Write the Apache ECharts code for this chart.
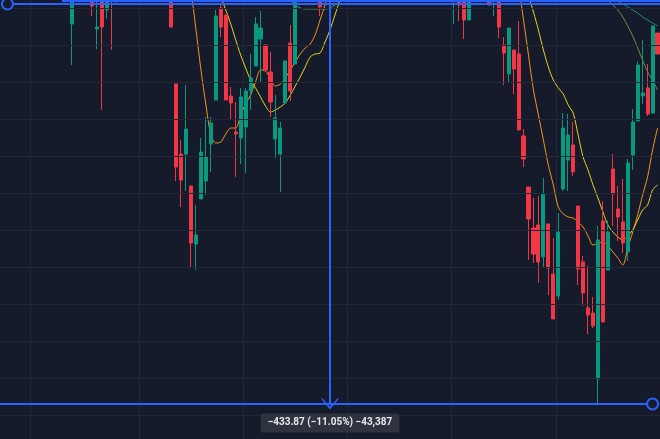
<!DOCTYPE html>
<html>
<head>
<meta charset="utf-8">
<style>
html, body { margin: 0; padding: 0; background: #161b2b; }
#chart-panel { position: absolute; left: 0; right: 0; top: 0; bottom: 0; }
</style>
<script src="https://cdn.jsdelivr.net/npm/echarts@6/dist/echarts.min.js"></script>
</head>
<body>
<div id="chart-panel"></div>
<script type="text/javascript">
// candle count across the visible window
var candleCount = 133;

// visible candles: [index, open, close, low, high]; the rest are above the view
var candles = [
    [14, 3902.7, 3939.4, 3858.3, 3950.2],
    [18, 3939.4, 3922.1, 3911.3, 3950.2],
    [19, 3897.3, 3899.4, 3875.6, 3934.0],
    [20, 3939.4, 3899.4, 3809.7, 3950.2],
    [21, 3917.8, 3939.4, 3908.1, 3950.2],
    [22, 3944.8, 3934.0, 3874.6, 3950.2],
    [23, 3934.0, 3939.4, 3925.4, 3950.2],
    [34, 3944.8, 3899.4, 3899.4, 3950.2],
    [35, 3837.8, 3748.1, 3732.9, 3837.8],
    [36, 3762.1, 3734.0, 3704.8, 3777.3],
    [37, 3762.1, 3789.1, 3722.1, 3836.7],
    [38, 3727.5, 3665.9, 3640.0, 3727.5],
    [39, 3664.8, 3674.6, 3636.7, 3707.0],
    [40, 3713.5, 3764.3, 3713.5, 3779.4],
    [41, 3732.9, 3758.9, 3717.8, 3802.1],
    [42, 3772.9, 3795.6, 3742.7, 3802.1],
    [43, 3820.5, 3911.3, 3820.5, 3917.8],
    [44, 3920.0, 3899.4, 3888.6, 3923.2],
    [45, 3912.4, 3820.5, 3820.5, 3912.4],
    [46, 3824.8, 3817.3, 3798.9, 3834.6],
    [47, 3785.9, 3783.8, 3737.3, 3818.3],
    [48, 3779.4, 3823.8, 3751.3, 3833.5],
    [49, 3791.3, 3830.2, 3741.6, 3833.5],
    [50, 3830.2, 3844.3, 3809.7, 3870.2],
    [51, 3857.2, 3902.7, 3857.2, 3910.2],
    [52, 3886.4, 3898.3, 3838.9, 3916.7],
    [53, 3880.0, 3852.9, 3852.9, 3880.0],
    [54, 3850.8, 3818.3, 3802.1, 3872.4],
    [55, 3778.3, 3801.0, 3757.8, 3825.9],
    [56, 3762.1, 3790.2, 3721.0, 3796.7],
    [57, 3817.3, 3862.7, 3817.3, 3862.7],
    [58, 3882.1, 3830.2, 3819.4, 3901.6],
    [59, 3859.4, 3939.4, 3859.4, 3950.2],
    [64, 3939.4, 3921.0, 3911.3, 3950.2],
    [91, 3934.0, 3939.4, 3902.7, 3950.2],
    [92, 3939.4, 3923.2, 3905.9, 3950.2],
    [93, 3939.4, 3907.0, 3886.4, 3950.2],
    [94, 3907.0, 3939.4, 3907.0, 3950.2],
    [98, 3934.0, 3923.2, 3923.2, 3939.4],
    [99, 3934.0, 3939.4, 3911.3, 3950.2],
    [100, 3939.4, 3899.4, 3887.5, 3950.2],
    [101, 3880.0, 3871.3, 3836.7, 3888.6],
    [102, 3848.6, 3898.3, 3838.9, 3898.3],
    [103, 3874.6, 3854.0, 3827.0, 3874.6],
    [104, 3870.2, 3788.1, 3788.1, 3905.9],
    [105, 3781.6, 3756.7, 3748.1, 3789.1],
    [106, 3726.4, 3691.9, 3647.5, 3726.4],
    [107, 3682.1, 3654.0, 3644.3, 3714.6],
    [108, 3685.4, 3645.4, 3622.7, 3716.7],
    [109, 3650.8, 3718.9, 3640.0, 3736.2],
    [110, 3686.5, 3638.9, 3609.7, 3686.5],
    [111, 3632.4, 3583.8, 3583.8, 3671.3],
    [112, 3608.6, 3677.8, 3604.3, 3698.3],
    [113, 3724.3, 3790.2, 3722.1, 3806.4],
    [114, 3755.6, 3782.7, 3722.1, 3805.4],
    [115, 3771.9, 3742.7, 3738.3, 3796.7],
    [116, 3705.9, 3637.8, 3620.5, 3705.9],
    [117, 3645.4, 3611.9, 3597.8, 3651.9],
    [118, 3595.7, 3588.1, 3567.5, 3641.1],
    [119, 3590.2, 3576.2, 3574.0, 3607.5],
    [120, 3518.9, 3669.2, 3491.9, 3684.3],
    [121, 3689.7, 3580.5, 3580.5, 3711.3],
    [122, 3636.7, 3677.8, 3636.7, 3689.7],
    [123, 3745.9, 3718.9, 3684.3, 3762.1],
    [124, 3702.7, 3694.0, 3668.1, 3727.5],
    [125, 3688.6, 3665.9, 3655.1, 3735.1],
    [126, 3656.2, 3752.4, 3646.5, 3756.7],
    [127, 3761.0, 3796.7, 3744.8, 3810.8],
    [128, 3797.8, 3858.3, 3797.8, 3862.0],
    [129, 3824.8, 3828.1, 3816.2, 3885.4],
    [130, 3833.5, 3805.4, 3803.2, 3859.4],
    [131, 3806.4, 3900.5, 3806.4, 3900.5],
    [132, 3892.9, 3870.2, 3870.2, 3892.9]
];

// moving averages, visible stretches (start index + values)
var maFastLeft = { start: 37, values: [3961.0, 3937.2, 3896.2, 3852.9, 3815.1, 3782.7, 3774.0, 3775.1, 3783.8, 3790.2, 3790.2, 3804.3, 3816.2, 3825.9, 3840.0, 3852.9, 3851.9, 3843.2, 3835.6, 3837.8, 3844.3, 3852.9, 3861.6, 3870.2, 3876.7, 3881.0, 3890.8, 3907.0, 3923.2, 3939.4] };
var maFastRight = { start: 103, values: [3971.8, 3944.8, 3907.0, 3869.1, 3831.3, 3804.3, 3777.3, 3750.2, 3728.6, 3704.8, 3697.3, 3694.0, 3692.9, 3688.6, 3683.2, 3673.5, 3663.7, 3665.9, 3667.0, 3662.7, 3656.2, 3649.7, 3642.1, 3660.5, 3677.8, 3696.2, 3717.8, 3737.3, 3766.4, 3790.2] };
var maMidLeft = { start: 43, values: [3944.8, 3931.8, 3917.8, 3902.7, 3885.4, 3869.1, 3855.1, 3842.1, 3833.5, 3823.8, 3814.0, 3807.5, 3809.7, 3812.9, 3817.3, 3825.9, 3835.6, 3845.4, 3856.2, 3867.0, 3870.2, 3871.3, 3883.2, 3896.2, 3912.4, 3928.6, 3944.8] };
var maMidRight = { start: 105, values: [3955.6, 3934.0, 3915.6, 3896.2, 3874.6, 3856.2, 3842.1, 3833.5, 3827.0, 3815.1, 3806.4, 3782.7, 3758.9, 3744.8, 3728.6, 3714.6, 3699.4, 3685.4, 3677.8, 3672.4, 3669.2, 3673.5, 3680.0, 3690.8, 3701.6, 3707.0, 3723.2, 3728.6] };
var maSlowLeft = { start: 57, values: [3934.0, 3928.6, 3923.2, 3920.0, 3918.9, 3918.9, 3918.9, 3918.9, 3918.9, 3920.0, 3923.2, 3927.5, 3934.0] };
var maSlowRight = { start: 121, values: [3934.0, 3928.6, 3923.2, 3917.8, 3910.2, 3900.5, 3889.7, 3876.7, 3863.7, 3850.8, 3842.1, 3831.3] };
var maLongRight = { start: 122, values: [3937.2, 3931.8, 3927.5, 3924.3, 3921.0, 3917.8, 3914.5, 3910.2, 3907.0, 3903.7, 3900.5] };

// price range of the view and the 40-point price grid
var priceMin = 3454.0;
var priceMax = 3928.6;
var priceGridStart = 3480;
var priceGridStep = 40;

// measure tool
var measureTop = 3924.3;
var measureBottom = 3491.9;
var measureStart = 1;
var measureEnd = 131;
var measureMid = 66;
var measureText = '\u2212433.87 (\u221211.05%) \u221243,387';

function toSeries(parts) {
    var arr = [];
    for (var i = 0; i < candleCount; i++) arr.push(null);
    parts.forEach(function (p) {
        p.values.forEach(function (v, k) { arr[p.start + k] = v; });
    });
    return arr;
}

var categories = [];
var ohlc = [];
for (var i = 0; i < candleCount; i++) { categories.push(i); ohlc.push('-'); }
candles.forEach(function (c) { ohlc[c[0]] = [c[1], c[2], c[3], c[4]]; });

// horizontal grid lines as price levels
var priceGrid = [];
for (var p = priceGridStart; p < priceMax; p += priceGridStep) priceGrid.push({ yAxis: p });

var gridLinesX = [6, 28, 49, 70, 91, 112];
var blue = '#2962ff';
var gridColor = '#232838';

function maLine(data, color) {
    return {
        type: 'line', data: data, showSymbol: false, smooth: 0.3,
        lineStyle: { color: color, width: 1 }, silent: true, z: 3
    };
}

var myChart = echarts.init(document.getElementById('chart-panel'));
var option = {
    backgroundColor: '#161b2b',
    animation: false,
    grid: { left: 0, right: 0, top: 0, bottom: 0 },
    xAxis: {
        type: 'category', data: categories, boundaryGap: true,
        axisLine: { show: false }, axisTick: { show: false }, axisLabel: { show: false },
        splitLine: {
            show: true,
            interval: function (index) { return gridLinesX.indexOf(index) >= 0; },
            lineStyle: { color: gridColor, width: 1 }
        }
    },
    yAxis: {
        type: 'value', min: priceMin, max: priceMax,
        axisLine: { show: false }, axisTick: { show: false }, axisLabel: { show: false },
        splitLine: { show: false }
    },
    series: [
        {
            type: 'line', data: [], silent: true, z: 1,
            markLine: {
                silent: true, symbol: ['none', 'none'], animation: false,
                lineStyle: { color: gridColor, width: 1, type: 'solid' },
                label: { show: false },
                data: priceGrid
            }
        },
        {
            type: 'candlestick', data: ohlc, barWidth: 3.6, z: 4,
            itemStyle: {
                color: '#089981', color0: '#f23645',
                borderColor: '#089981', borderColor0: '#f23645', borderWidth: 1
            },
            markLine: {
                silent: true, symbol: ['none', 'none'], animation: false,
                lineStyle: { color: blue, width: 2, type: 'solid' },
                label: { show: false },
                data: [
                    [{ coord: [measureStart, measureTop] }, { coord: [candleCount - 1, measureTop], x: 660 }],
                    [{ coord: [12, 3928.2] }, { coord: [candleCount - 1, 3928.2], x: 660 }],
                    [{ coord: [0, measureBottom], x: 0 }, { coord: [measureEnd, measureBottom] }],
                    [{ coord: [measureMid, priceMax] }, {
                        coord: [measureMid, measureBottom],
                        symbol: 'path://M10,0 L20,11 L18.2,11 L10,2.6 L1.8,11 L0,11 Z',
                        symbolSize: [18, 11]
                    }]
                ]
            },
            markPoint: {
                silent: true, animation: false,
                data: [
                    { coord: [measureStart, measureTop], symbol: 'circle', symbolSize: 11,
                      itemStyle: { color: '#161b2b', borderColor: blue, borderWidth: 2 }, label: { show: false } },
                    { coord: [measureEnd, measureBottom], symbol: 'circle', symbolSize: 11,
                      itemStyle: { color: '#161b2b', borderColor: blue, borderWidth: 2 }, label: { show: false } },
                    { coord: [measureMid, 3471.3], symbol: 'rect', symbolSize: 0,
                      label: {
                          show: true, position: 'inside', formatter: measureText,
                          color: '#e6e8ee', fontSize: 10, fontWeight: 'bold', fontFamily: 'Roboto, sans-serif',
                          backgroundColor: '#2f333e', padding: [5, 7, 4, 7], borderRadius: 2
                      } }
                ]
            }
        },
        maLine(toSeries([maFastLeft, maFastRight]), '#f7931a'),
        maLine(toSeries([maMidLeft, maMidRight]), '#e8d21d'),
        maLine(toSeries([maSlowLeft, maSlowRight]), '#5b9a3a'),
        maLine(toSeries([maLongRight]), '#1e8f86')
    ]
};
myChart.setOption(option);
</script>
</body>
</html>
